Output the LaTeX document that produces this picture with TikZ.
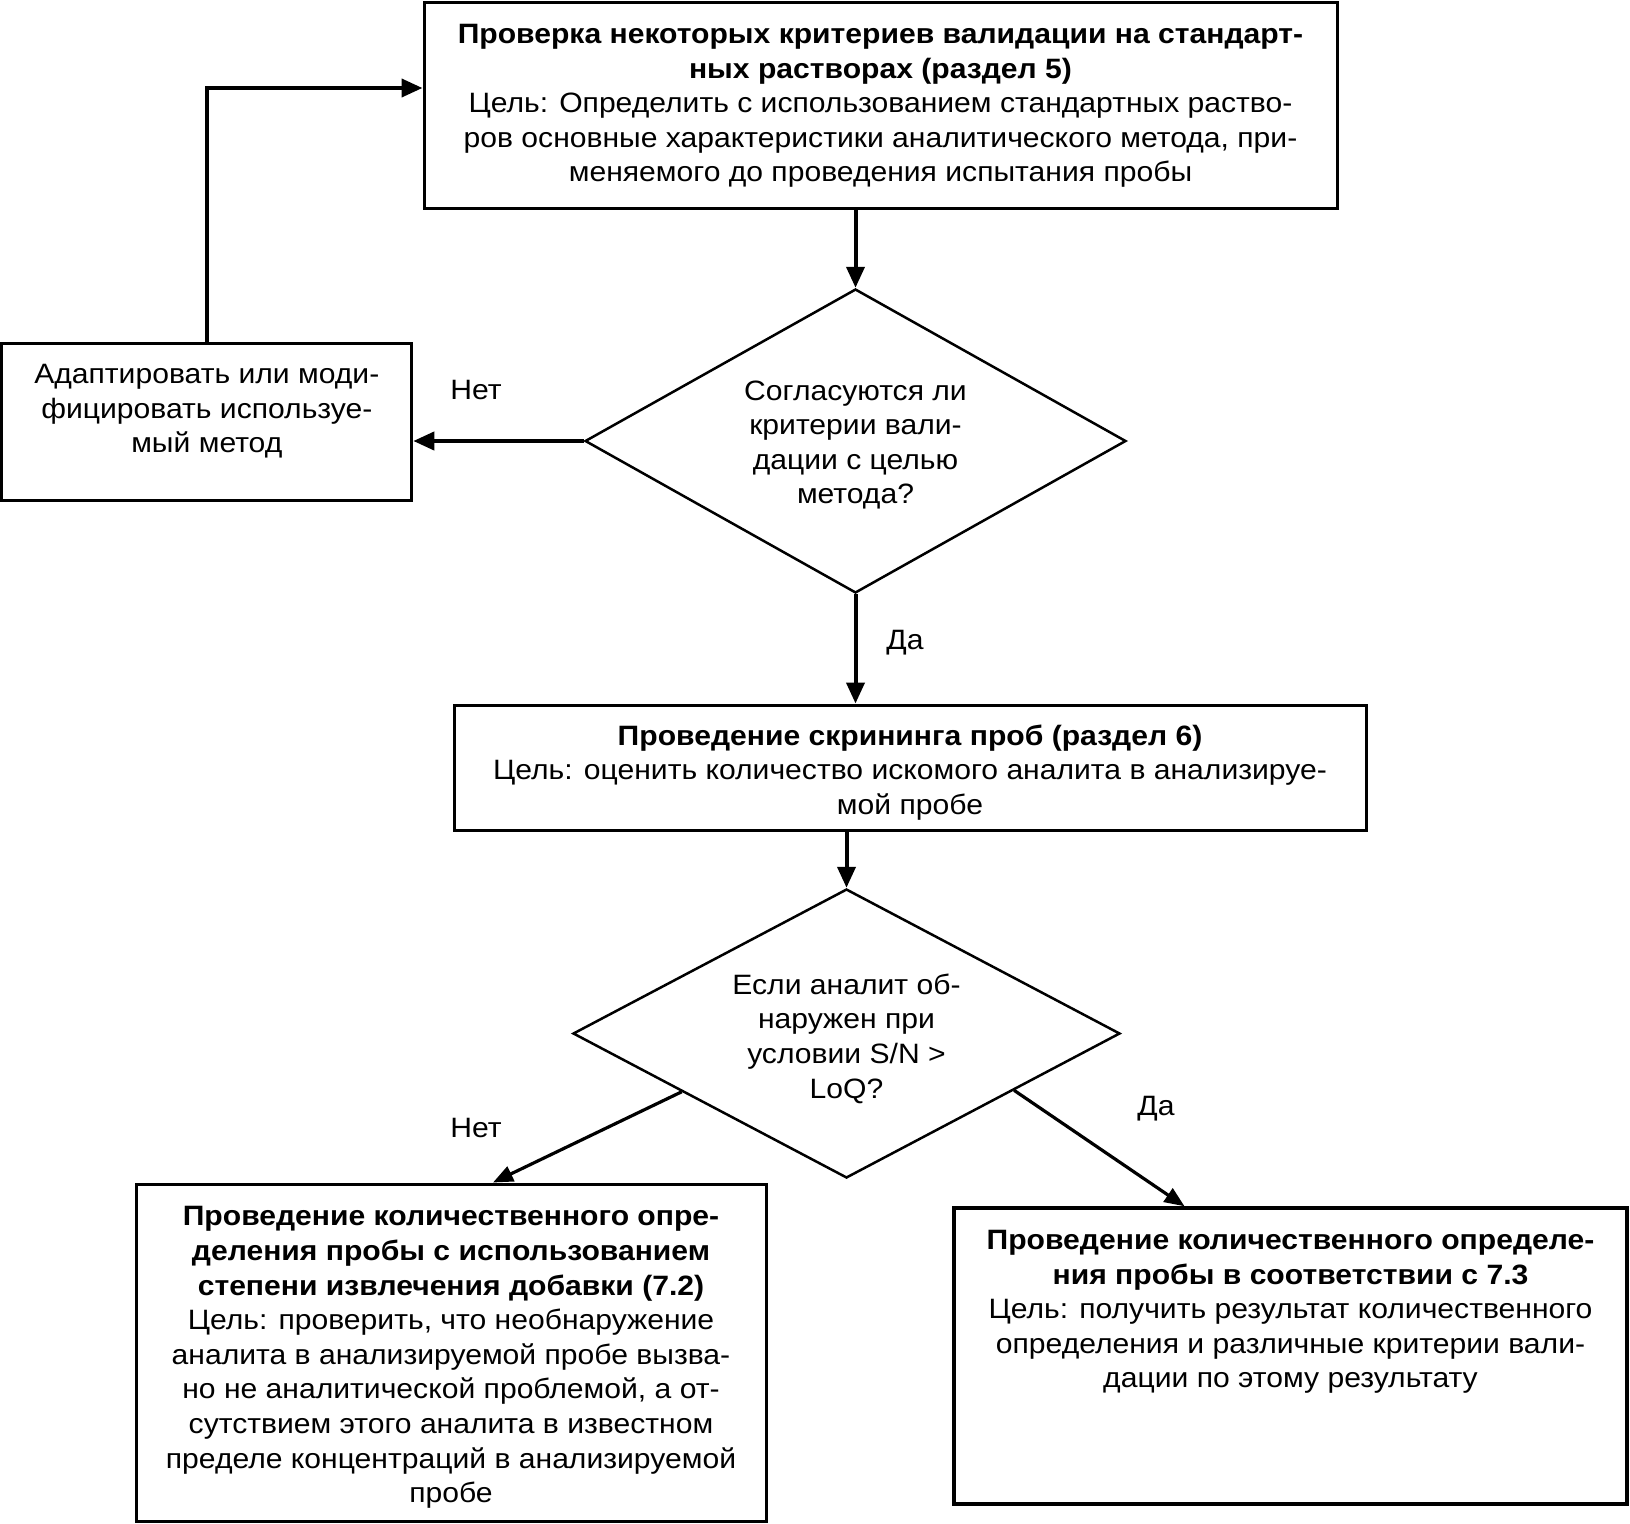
\documentclass[tikz,border=0pt]{standalone}
\usepackage{fontspec}
\setmainfont{Liberation Sans}[FakeStretch=1.075]
\usetikzlibrary{shapes.geometric,arrows.meta,calc}
\begin{document}
\begin{tikzpicture}[x=1pt,y=-1pt,
  box/.style={draw, line width=3pt, inner sep=0pt, align=center},
  dia/.style={draw, diamond, line width=2.5pt, inner sep=0pt},
  txt/.style={inner sep=0pt, align=center},
  arr/.style={line width=4pt, -{Triangle[length=21pt,width=18pt]}},
  thin arr/.style={line width=3.2pt, -{Triangle[length=20pt,width=16pt]}},
  lbl/.style={inner sep=0pt},
  font=\fontsize{28}{34.6}\selectfont]
\path[use as bounding box, fill=white] (0,0) rectangle (1630,1523);

% boxes
\node[box, minimum width=913pt, minimum height=206pt] (top) at (880.5,105) {};
\node[txt] (topt) at ([yshift=-1pt]top.center) {%
\textbf{Проверка некоторых критериев валидации на стандарт-}\\
\textbf{ных растворах (раздел 5)}\\
Цель: Определить с использованием стандартных раство-\\
ров основные характеристики аналитического метода, при-\\
меняемого до проведения испытания пробы};

\node[dia, minimum width=541pt, minimum height=304pt] (d1) at (855.5,441) {};
\node[txt] (d1t) at ([yshift=-4pt]d1.center) {Согласуются ли\\критерии вали-\\дации с целью\\метода?};

\node[box, minimum width=410pt, minimum height=157pt] (adapt) at (206.8,421.5) {};
\node[txt] (adaptt) at ([yshift=10pt]adapt.center) {Адаптировать или моди-\\фицировать используе-\\мый метод};

\node[box, minimum width=912pt, minimum height=125pt] (scr) at (910,767.5) {};
\node[txt] (scrt) at ([yshift=-5pt]scr.center) {%
\textbf{Проведение скрининга проб (раздел 6)}\\
Цель: оценить количество искомого аналита в анализируе-\\
мой пробе};

\node[dia, minimum width=547pt, minimum height=289pt] (d2) at (846.5,1033.5) {};
\node[txt] (d2t) at ([yshift=-5pt]d2.center) {Если аналит об-\\наружен при\\условии S/N >\\LoQ?};

\node[box, minimum width=630pt, minimum height=337pt] (bl) at (451,1352.5) {};
\node[txt] (blt) at ([yshift=-5pt]bl.center) {%
\textbf{Проведение количественного опре-}\\
\textbf{деления пробы с использованием}\\
\textbf{степени извлечения добавки (7.2)}\\
Цель: проверить, что необнаружение\\
аналита в анализируемой пробе вызва-\\
но не аналитической проблемой, а от-\\
сутствием этого аналита в известном\\
пределе концентраций в анализируемой\\
пробе};

\node[box, line width=3.5pt, minimum width=673pt, minimum height=296pt] (br) at (1290.5,1356) {};
\node[txt] (brt) at ([yshift=44pt]br.center) {%
\textbf{Проведение количественного определе-}\\
\textbf{ния пробы в соответствии с 7.3}\\
Цель: получить результат количественного\\
определения и различные критерии вали-\\
дации по этому результату};

% labels
\node[lbl] (no1) at (476,390) {Нет};
\node[lbl] (yes1) at (905,643) {Да};
\node[lbl] (no2) at (476,1128) {Нет};
\node[lbl] (yes2) at (1156,1109) {Да};

% connectors
\coordinate (loopc) at (206.8,88);
\draw[arr] (adapt.north) |- (top.west |- loopc);
\draw[arr] (d1.north |- top.south) -- (d1.north);
\draw[arr] (d1.west) -- (d1.west -| adapt.east);
\draw[arr] (d1.south) -- (d1.south |- scr.north);
\draw[arr] (d2.north |- scr.south) -- (d2.north);
\draw[thin arr] ($(d2.west)!0.4!(d2.south)$) -- ([xshift=42pt]bl.north);
\draw[thin arr] ($(d2.east)!0.39!(d2.south)$) -- ([xshift=-106pt]br.north);
\end{tikzpicture}
\end{document}
